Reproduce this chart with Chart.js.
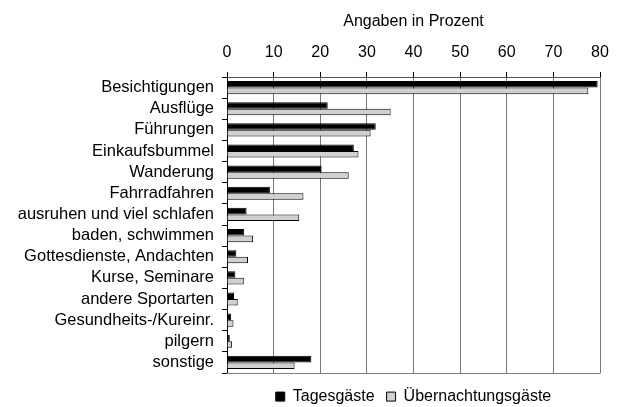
<!DOCTYPE html>
<html>
<head>
<meta charset="utf-8">
<script src="https://cdn.jsdelivr.net/npm/chart.js@4.4.0/dist/chart.umd.min.js"></script>
<style>
  html, body { margin: 0; padding: 0; background: #fff; }
  #wrap { width: 619px; height: 407px; }
</style>
</head>
<body>
<div id="wrap"><canvas id="chart" width="619" height="407"></canvas></div>
<script>
// Kategorien (von oben nach unten)
const categories = [
  'Besichtigungen', 'Ausflüge', 'Führungen', 'Einkaufsbummel', 'Wanderung',
  'Fahrradfahren', 'ausruhen und viel schlafen', 'baden, schwimmen',
  'Gottesdienste, Andachten', 'Kurse, Seminare', 'andere Sportarten',
  'Gesundheits-/Kureinr.', 'pilgern', 'sonstige'
];

// Werte in Prozent
const tagesgaeste = [79.5, 21.6, 31.9, 27.2, 20.3, 9.2, 4.2, 3.7, 2.0, 1.8, 1.5, 0.9, 0.6, 18.1];
const uebernachtungsgaeste = [77.5, 35.1, 30.8, 28.2, 26.1, 16.4, 15.5, 5.6, 4.5, 3.6, 2.3, 1.4, 1.1, 14.5];

// Achse
const xMin = 0;
const xMax = 80;
const xStep = 10;

const FONT = 'Liberation Sans, Arial, sans-serif';

// Rahmen unten um den Plotbereich
const frame = {
  id: 'frame',
  afterDraw(chart) {
    const { ctx, chartArea: a } = chart;
    ctx.save();
    ctx.strokeStyle = '#808080';
    ctx.lineWidth = 1;
    ctx.beginPath();
    ctx.moveTo(a.left, a.bottom + 0.5);
    ctx.lineTo(a.right + 0.5, a.bottom + 0.5);
    ctx.stroke();
    ctx.restore();
  }
};

const ctx = document.getElementById('chart').getContext('2d');
const chart = new Chart(ctx, {
  type: 'bar',
  data: {
    labels: categories,
    datasets: [
      {
        label: 'Tagesgäste',
        data: tagesgaeste,
        backgroundColor: '#000000',
        borderColor: '#000000',
        borderWidth: 1
      },
      {
        label: 'Übernachtungsgäste',
        data: uebernachtungsgaeste,
        backgroundColor: '#d0d0d0',
        borderColor: '#000000',
        borderWidth: 1
      }
    ]
  },
  options: {
    indexAxis: 'y',
    responsive: false,
    animation: false,
    devicePixelRatio: 1,
    categoryPercentage: 0.62,
    barPercentage: 1.0,
    layout: { padding: { left: 0, right: 19, top: 0, bottom: 0 } },
    scales: {
      x: {
        position: 'top',
        min: xMin,
        max: xMax,
        ticks: {
          stepSize: xStep,
          color: '#000',
          font: { family: FONT, size: 16 },
          padding: 10
        },
        grid: {
          color: '#777',
          lineWidth: 1,
          drawTicks: true,
          tickLength: 5,
          tickColor: '#000'
        },
        border: { color: '#555', width: 1 },
        title: {
          display: true,
          text: 'Angaben in Prozent',
          color: '#000',
          font: { family: FONT, size: 16 },
          padding: { top: 12, bottom: 4 }
        },
        afterFit(scale) { scale.height = 77; }
      },
      y: {
        ticks: {
          color: '#000',
          font: { family: FONT, size: 16.5 },
          padding: 8,
          autoSkip: false
        },
        grid: {
          drawOnChartArea: false,
          drawTicks: true,
          tickLength: 5,
          tickColor: '#000'
        },
        border: { color: '#000', width: 1 },
        afterFit(scale) { scale.width = 227; }
      }
    },
    plugins: {
      legend: {
        position: 'bottom',
        fullSize: false,
        maxHeight: 34,
        title: {
          display: true,
          text: ' ',
          font: { family: FONT, size: 3 },
          padding: 0
        },
        labels: {
          color: '#000',
          font: { family: FONT, size: 16 },
          boxWidth: 9,
          boxHeight: 9,
          padding: 12
        }
      },
      tooltip: { enabled: false }
    }
  },
  plugins: [frame]
});
</script>
</body>
</html>
